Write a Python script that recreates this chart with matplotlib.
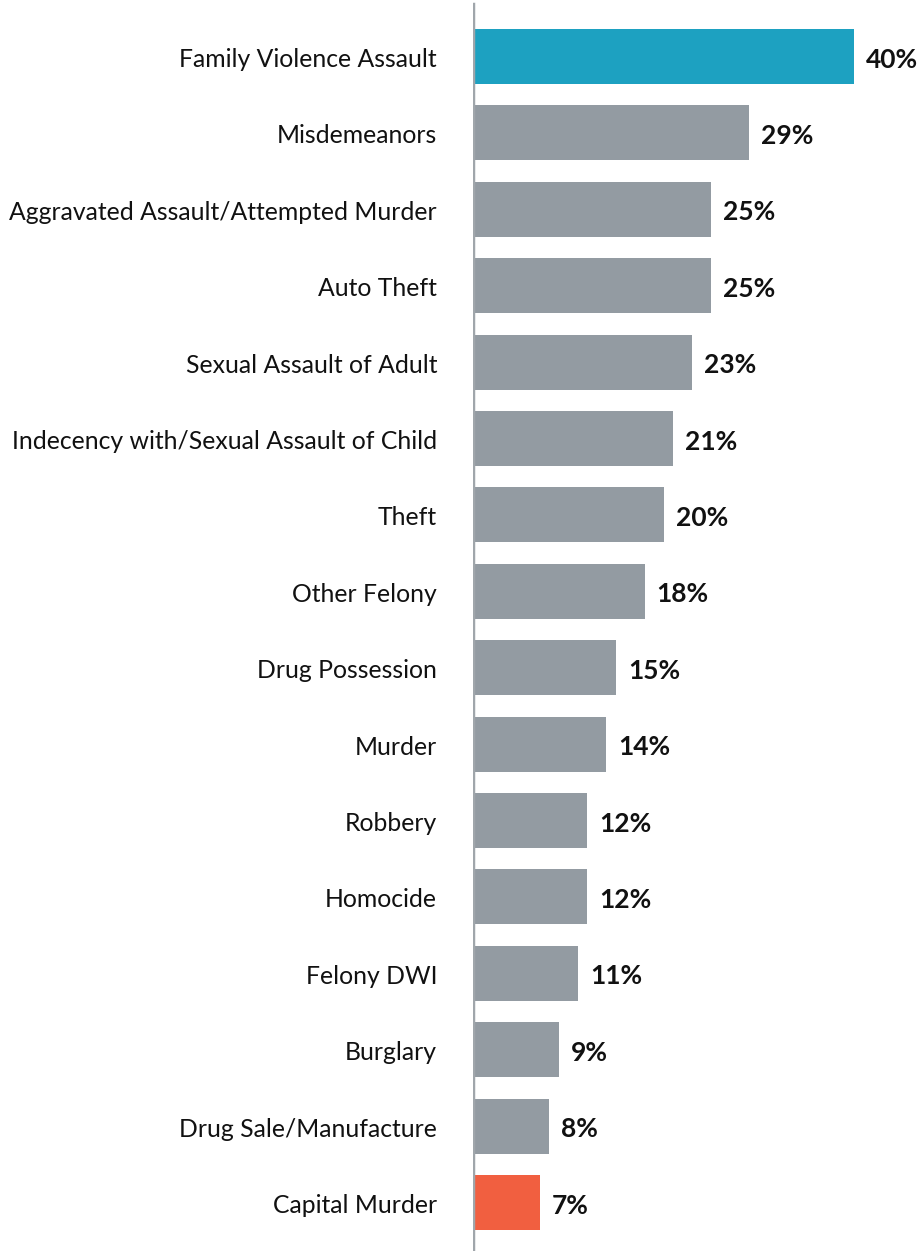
import numpy as np
import matplotlib.pyplot as plt

categories = [
    "Family Violence Assault",
    "Misdemeanors",
    "Aggravated Assault/Attempted Murder",
    "Auto Theft",
    "Sexual Assault of Adult",
    "Indecency with/Sexual Assault of Child",
    "Theft",
    "Other Felony",
    "Drug Possession",
    "Murder",
    "Robbery",
    "Homocide",
    "Felony DWI",
    "Burglary",
    "Drug Sale/Manufacture",
    "Capital Murder",
]
values = [40, 29, 25, 25, 23, 21, 20, 18, 15, 14, 12, 12, 11, 9, 8, 7]

teal = "#1DA1C1"
grey = "#939BA2"
orange = "#F15F40"
colors = [teal] + [grey] * (len(values) - 2) + [orange]

W, H = 922, 1251
fig = plt.figure(figsize=(W / 100, H / 100), dpi=100)
x0 = 473
ax = fig.add_axes([x0 / W, 0, 1 - x0 / W, 1])

px_per_pct = 9.53
step = 76.4
first = 56.5
y = np.arange(len(values))
ax.barh(y, values, height=0.72, color=colors, zorder=2)
ax.set_xlim(0, (W - x0) / px_per_pct)
ax.set_ylim((H - first) / step, -first / step)

for s in ax.spines.values():
    s.set_visible(False)
ax.set_xticks([])
ax.set_yticks([])
ax.axvline(0, ymin=0, ymax=1 - 4 / H, color="#A0A6AB", lw=2.5, zorder=3)

dy = 3 / step
for yi, v, lab in zip(y, values, categories):
    ax.text(-36 / px_per_pct, yi + dy, lab, ha="right", va="center",
            fontsize=17.8, family="Lato", color="#111111")
    ax.text(v + 12 / px_per_pct, yi + dy, f"{v}%", ha="left", va="center",
            fontsize=19, family="Lato", fontweight="bold", color="#111111")

fig.savefig("out.png", dpi=100)
